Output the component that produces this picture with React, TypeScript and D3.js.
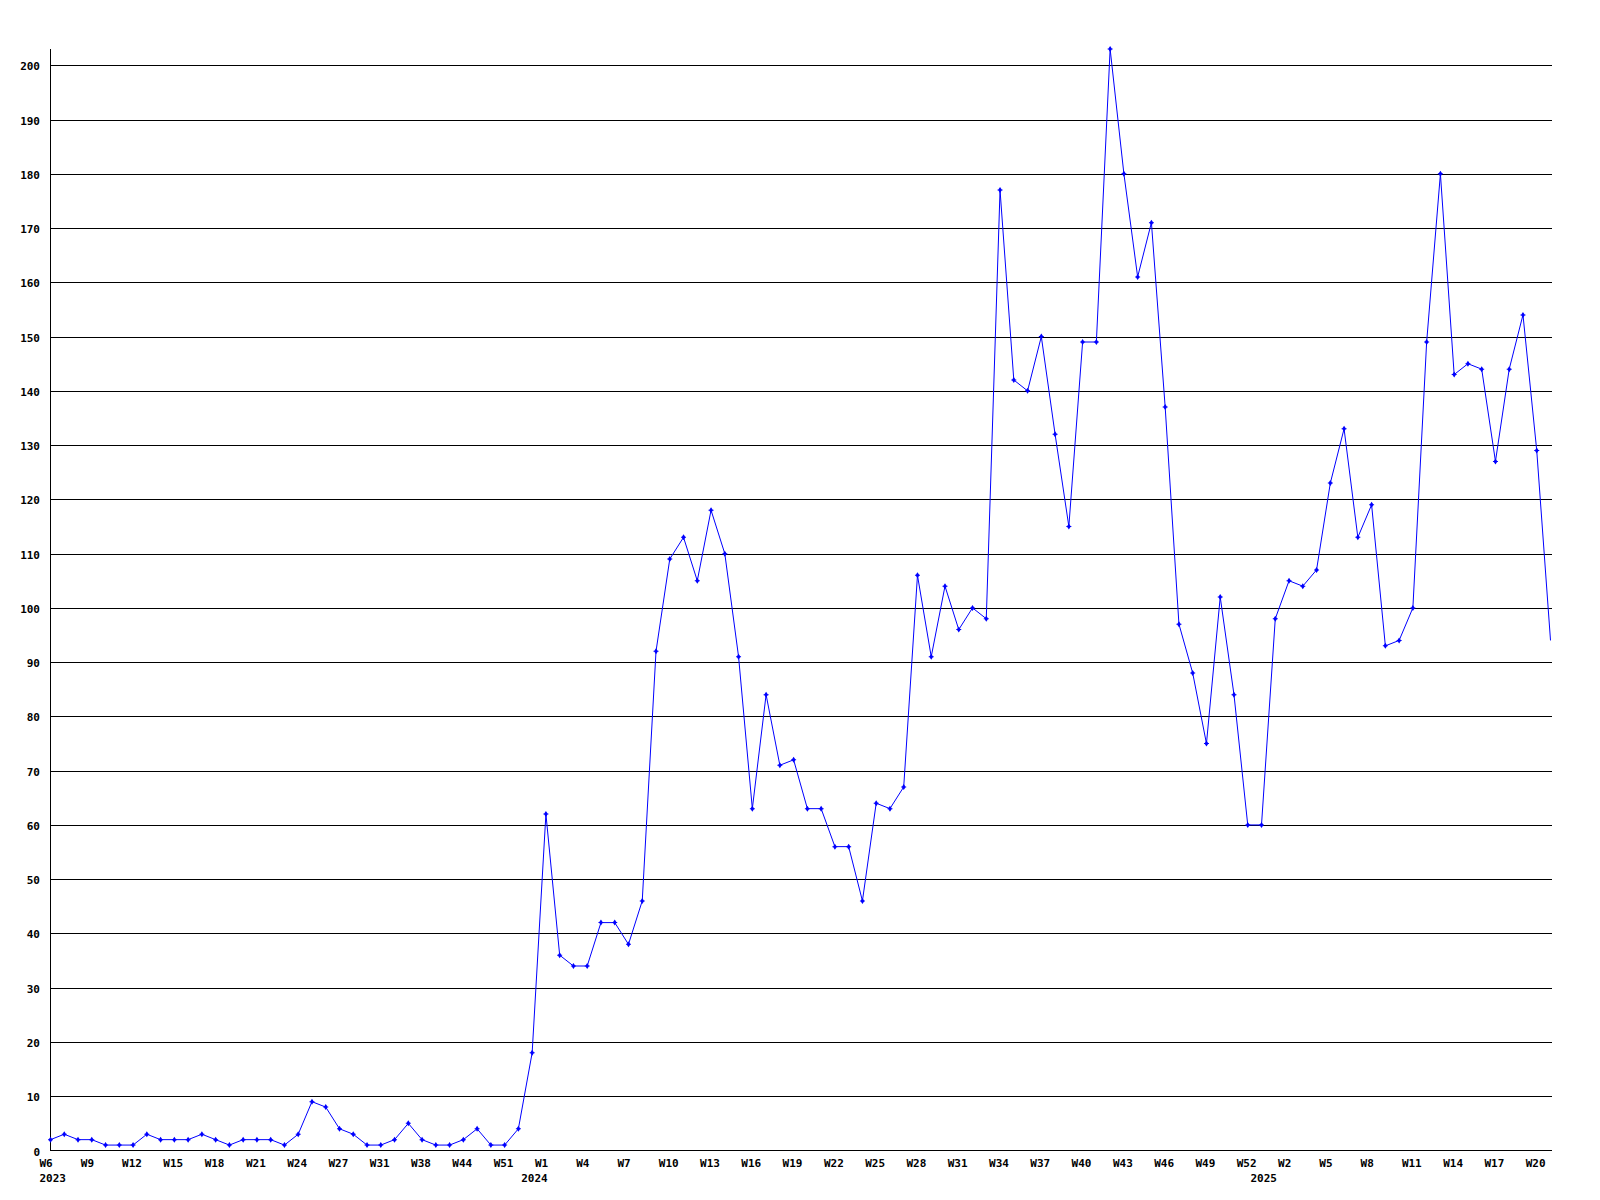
import React from "react";
import * as d3 from "d3";

const values: number[] = [
  2, 3, 2, 2, 1, 1, 1, 3, 2, 2, 2, 3, 2, 1, 2, 2, 2, 1, 3, 9,
  8, 4, 3, 1, 1, 2, 5, 2, 1, 1, 2, 4, 1, 1, 4, 18, 62, 36, 34, 34,
  42, 42, 38, 46, 92, 109, 113, 105, 118, 110, 91, 63, 84, 71, 72, 63, 63, 56, 56, 46,
  64, 63, 67, 106, 91, 104, 96, 100, 98, 177, 142, 140, 150, 132, 115, 149, 149, 203, 180, 161,
  171, 137, 97, 88, 75, 102, 84, 60, 60, 98, 105, 104, 107, 123, 133, 113, 119, 93, 94, 100,
  149, 180, 143, 145, 144, 127, 144, 154, 129, 94,
];

// labels shown every 3rd point
const weekLabels: string[] = [
  "W6", "W9", "W12", "W15", "W18", "W21", "W24", "W27", "W31", "W38", "W44", "W51",
  "W1", "W4", "W7", "W10", "W13", "W16", "W19", "W22", "W25", "W28", "W31", "W34",
  "W37", "W40", "W43", "W46", "W49", "W52", "W2", "W5", "W8", "W11", "W14", "W17", "W20",
];
const labelStep = 3;

const yearLabels: string[] = ["2023", "2024", "2025"];
const yearIndex: number[] = [0, 35, 88];

const yTicks: number[] = d3.range(0, 201, 10);

const W = 1600;
const H = 1200;
const left = 50.5;
const right = 1550.5;
const top = 49;
const bottom = 1150.5;
const font = "'DejaVu Sans Mono', monospace";

export default function App() {
  const x = d3.scaleLinear().domain([0, values.length - 1]).range([left, right]);
  const y = d3.scaleLinear().domain([0, d3.max(values) as number]).range([bottom, top]);
  const line = d3
    .line<number>()
    .x((_, i) => x(i))
    .y((d) => y(d));

  return (
    <svg
      width={W}
      height={H}
      style={{ position: "absolute", left: 0, top: 0, background: "#fff" }}
      fontFamily={font}
      fontWeight="bold"
      fontSize={11}
    >
      <rect x={0} y={0} width={W} height={H} fill="#fff" />
      {yTicks.map((t) => (
        <g key={t}>
          {t > 0 && (
            <line
              x1={left}
              x2={right + 1}
              y1={Math.round(y(t)) + 0.5}
              y2={Math.round(y(t)) + 0.5}
              stroke="#000"
              strokeWidth={1}
              shapeRendering="crispEdges"
            />
          )}
          <text x={40} y={Math.round(y(t)) + 4.5} textAnchor="end" fill="#000">
            {t}
          </text>
        </g>
      ))}
      {/* axes */}
      <line x1={left} x2={left} y1={top} y2={bottom} stroke="#000" shapeRendering="crispEdges" />
      <line x1={left} x2={right + 1} y1={bottom} y2={bottom} stroke="#000" shapeRendering="crispEdges" />
      {weekLabels.map((lab, k) => (
        <text key={k} x={x(k * labelStep) - 11} y={1166.5} fill="#000">
          {lab}
        </text>
      ))}
      {yearLabels.map((lab, k) => (
        <text key={lab} x={x(yearIndex[k]) - 11} y={1181.5} fill="#000">
          {lab}
        </text>
      ))}
      <path d={line(values) as string} fill="none" stroke="#0000ff" strokeWidth={1} />
      {values.slice(0, values.length - 1).map((v, i) => (
        <path
          key={i}
          transform={`translate(${x(i)},${y(v)})`}
          d="M0,-3 L2,0 L0,3 L-2,0 Z M-2.5,-0.5 H2.5 V0.5 H-2.5 Z"
          fill="#0000ff"
        />
      ))}
    </svg>
  );
}
